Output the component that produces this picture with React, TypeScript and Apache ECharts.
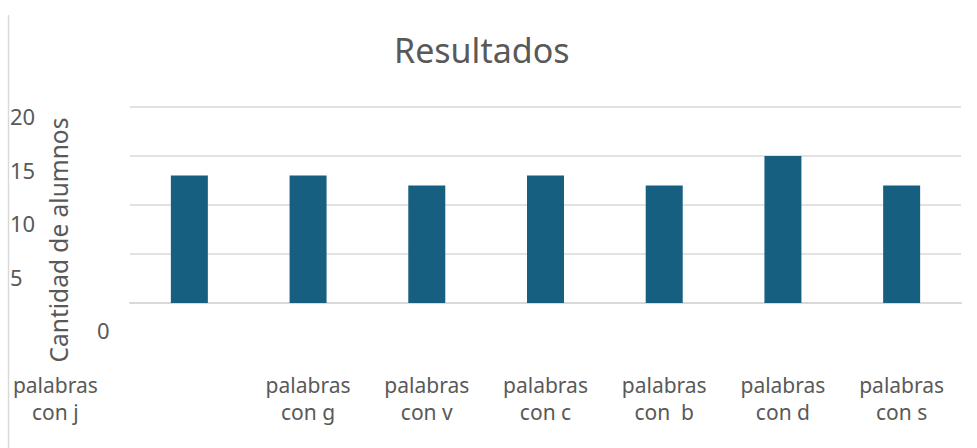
import React, { useEffect, useRef } from "react";
import * as echarts from "echarts";

const categories = [
  "palabras\ncon j",
  "palabras\ncon g",
  "palabras\ncon v",
  "palabras\ncon c",
  "palabras\ncon  b",
  "palabras\ncon d",
  "palabras\ncon s",
];
const values = [13, 13, 12, 13, 12, 15, 12];
const chartTitle = "Resultados";
const yAxisTitle = "Cantidad de alumnos";
const yMin = 0;
const yMax = 20;
const yStep = 5;

const FONT = "'Noto Sans', sans-serif";
const TEXT = "#595959";
const GRID = "#D9D9D9";

export default function App() {
  const ref = useRef<HTMLDivElement>(null);
  useEffect(() => {
    if (!ref.current) return;
    const chart = echarts.init(ref.current, null, { renderer: "svg" });
    chart.setOption({
      animation: false,
      backgroundColor: "#ffffff",
      textStyle: { fontFamily: FONT },
      title: {
        text: chartTitle,
        left: 389,
        top: 28,
        textStyle: { fontFamily: FONT, fontSize: 34, fontWeight: "normal", color: TEXT },
      },
      grid: [
        { left: 130, right: 16, top: 107, bottom: 145 },
        { left: 10, width: 10, top: 116, bottom: 118 },
      ],
      xAxis: [
        {
          type: "category",
          data: categories,
          gridIndex: 0,
          axisLine: { show: true, lineStyle: { color: GRID, width: 2 } },
          axisTick: { show: false },
          axisLabel: {
            interval: 0,
            margin: 68,
            formatter: (v: string, i: number) => (i === 0 ? `{f|${v}}` : `{n|${v}}`),
            rich: {
              n: { fontFamily: FONT, fontSize: 21, lineHeight: 27, color: TEXT },
              f: { fontFamily: FONT, fontSize: 21, lineHeight: 27, color: TEXT, padding: [0, 268, 0, 0] },
            },
          },
        },
        {
          type: "value",
          gridIndex: 1,
          show: false,
        },
      ],
      yAxis: [
        {
          type: "value",
          gridIndex: 0,
          min: yMin,
          max: yMax,
          interval: yStep,
          axisLabel: { show: false },
          axisLine: { show: false },
          axisTick: { show: false },
          splitLine: { lineStyle: { color: GRID, width: 1.5 } },
        },
        {
          type: "value",
          gridIndex: 1,
          min: yMin,
          max: yMax,
          interval: yStep,
          axisLine: { show: false },
          axisTick: { show: false },
          splitLine: { show: false },
          axisLabel: {
            inside: true,
            margin: 0,
            formatter: (v: number) => (v === 0 ? `{z|${v}}` : `{n|${v}}`),
            rich: {
              n: { fontFamily: FONT, fontSize: 22, color: TEXT },
              z: { fontFamily: FONT, fontSize: 22, color: TEXT, padding: [0, 0, 0, 87] },
            },
          },
        },
      ],
      graphic: [
        {
          type: "line",
          shape: { x1: 8.5, y1: 15, x2: 8.5, y2: 448 },
          style: { stroke: GRID, lineWidth: 1.5 },
        },
        {
          type: "text",
          x: 58,
          y: 240,
          rotation: Math.PI / 2,
          style: {
            text: yAxisTitle,
            fontFamily: FONT,
            fontSize: 24.5,
            fill: TEXT,
            align: "center",
            verticalAlign: "middle",
          },
        },
      ],
      series: [
        {
          type: "bar",
          data: values,
          xAxisIndex: 0,
          yAxisIndex: 0,
          barWidth: 37,
          itemStyle: { color: "#175F80" },
        },
      ],
    });
    return () => chart.dispose();
  }, []);
  return (
    <div
      ref={ref}
      style={{ position: "fixed", left: 0, top: 0, width: 977, height: 448 }}
    />
  );
}
